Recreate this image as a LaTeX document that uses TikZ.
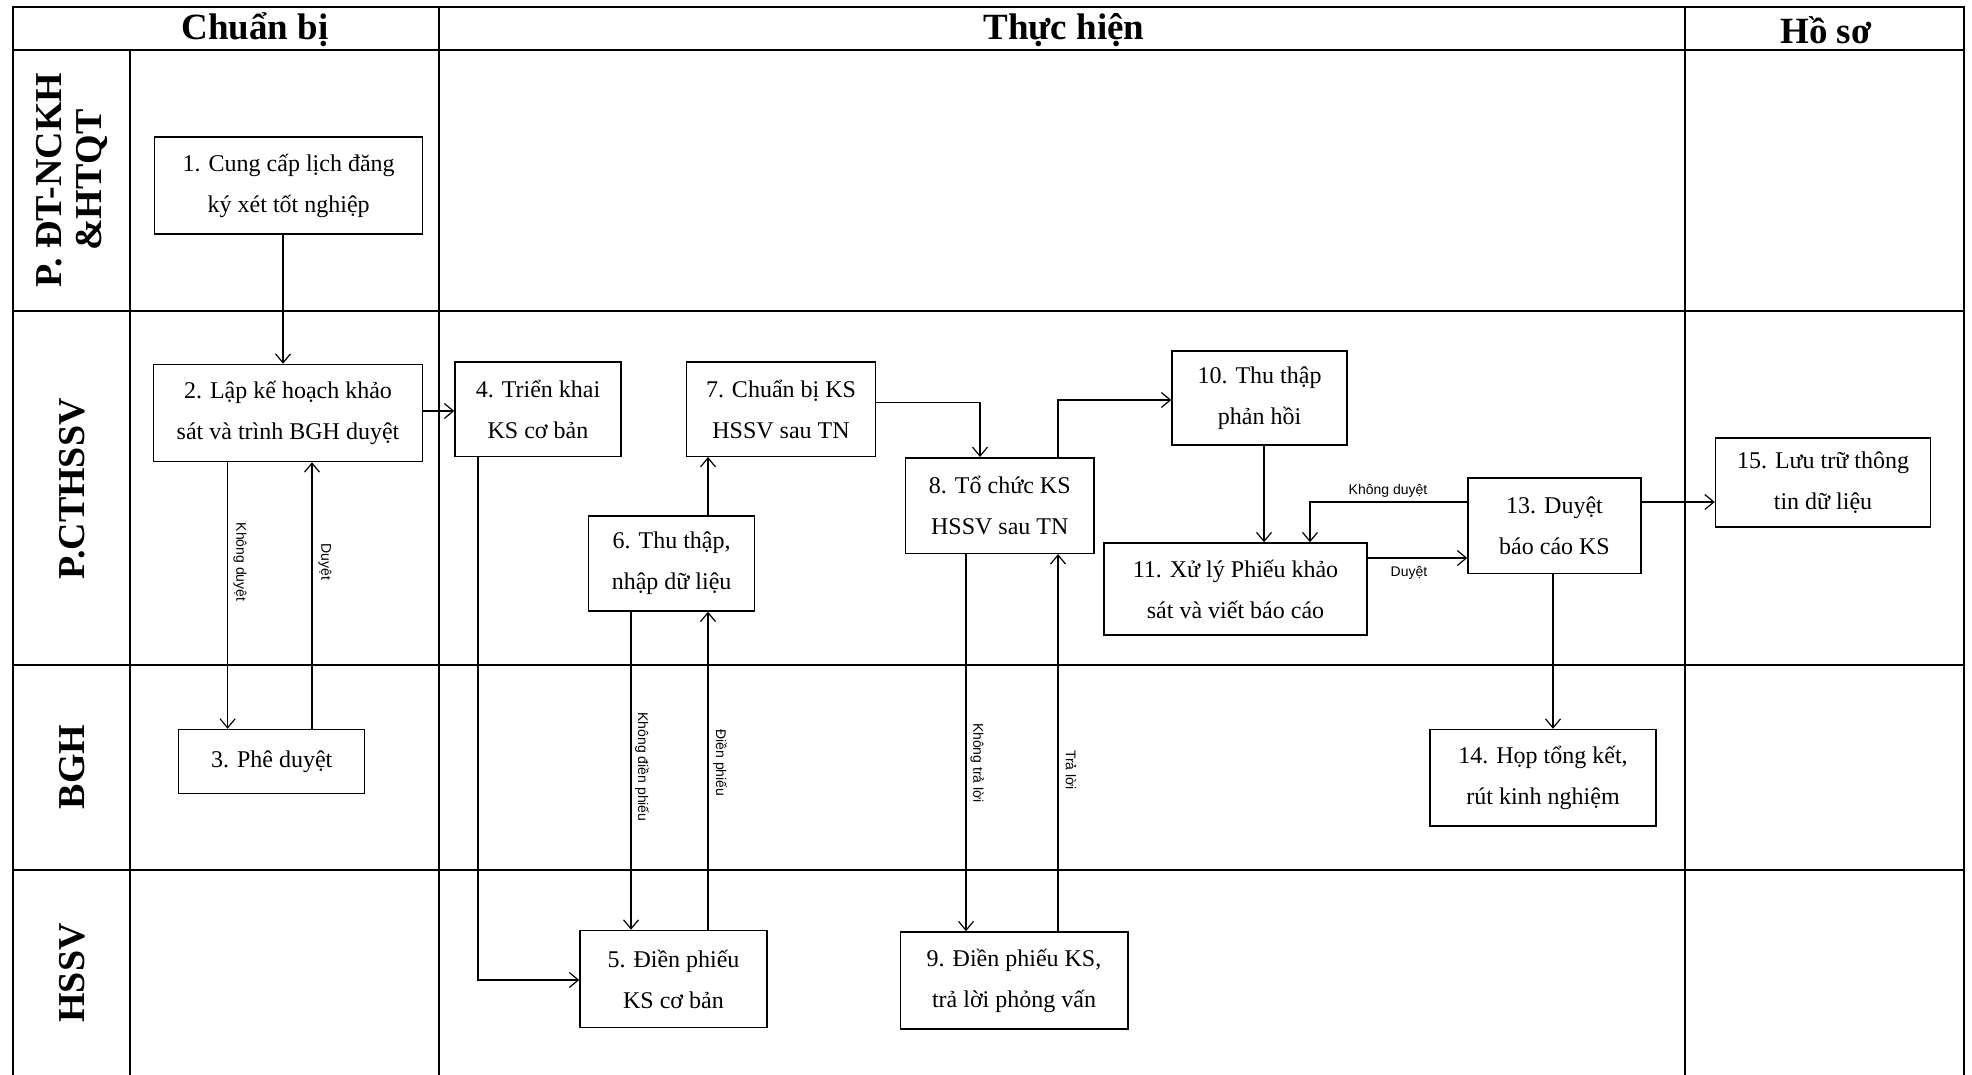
\documentclass[tikz,border=0pt]{standalone}
\usepackage{fontspec}
\setmainfont{Liberation Serif}
\newfontfamily\lblfont{Liberation Sans}
\usetikzlibrary{arrows.meta}
\begin{document}
\begin{tikzpicture}[x=1pt,y=-1pt,
  grid/.style={line width=2pt, black},
  box/.style={draw, line width=1.5pt, inner sep=0pt, align=center, font=\fontsize{24}{41}\selectfont},
  conn/.style={line width=1.2pt, -{Straight Barb[length=9pt,width=15pt,line width=1.2pt]}},
  lbl/.style={font=\lblfont\fontsize{14}{16}\selectfont, inner sep=1pt},
  vlbl/.style={lbl, rotate=-90},
  hdr/.style={font=\fontsize{37}{40}\selectfont\bfseries, inner sep=0pt},
  lane/.style={font=\fontsize{38}{40}\selectfont\bfseries, rotate=90, align=center, inner sep=0pt}
]
\useasboundingbox (0,0) rectangle (1972,1075);
\fill[white] (0,0) rectangle (1972,1075);

% table
\draw[grid] (12.6,1075) -- (12.6,7.5) -- (1964,7.5) -- (1964,1075);
\draw[grid] (12.6,50) -- (1964,50);
\draw[grid] (12.6,310.6) -- (1964,310.6);
\draw[grid] (12.6,665) -- (1964,665);
\draw[grid] (12.6,870) -- (1964,870);
\draw[grid] (130,50) -- (130,1075);
\draw[grid] (439,7.5) -- (439,1075);
\draw[grid] (1685,7.5) -- (1685,1075);

% headers
\node[hdr] (hC) at (255,30) {Chuẩn bị};
\node[hdr] (hT) at (1064,30) {Thực hiện};
\node[hdr] (hH) at (1826,30) {Hồ sơ};

% lanes
\node[lane] (l1) at (72,180) {P. ĐT-NCKH\\\&HTQT};
\node[lane] (l2) at (72,489) {P.CTHSSV};
\node[lane] (l3) at (72,767) {BGH};
\node[lane] (l4) at (72,973) {HSSV};

% boxes
\node[box, minimum width=268pt, minimum height=97pt] (n1) at (288.7,185.5) {1. Cung cấp lịch đăng\\ký xét tốt nghiệp};
\node[box, minimum width=269pt, minimum height=97pt] (n2) at (288,413) {2. Lập kế hoạch khảo\\sát và trình BGH duyệt};
\node[box, minimum width=186pt, minimum height=64pt] (n3) at (271.7,761.5) {3. Phê duyệt};
\node[box, minimum width=166pt, minimum height=94.5pt] (n4) at (538,409) {4. Triển khai\\KS cơ bản};
\node[box, minimum width=187pt, minimum height=97pt] (n5) at (673.5,979) {5. Điền phiếu\\KS cơ bản};
\node[box, minimum width=166pt, minimum height=95pt] (n6) at (671.6,563.4) {6. Thu thập,\\nhập dữ liệu};
\node[box, minimum width=189pt, minimum height=94.5pt] (n7) at (781,409) {7. Chuẩn bị KS\\HSSV sau TN};
\node[box, minimum width=188.5pt, minimum height=95.6pt] (n8) at (999.8,505.6) {8. Tổ chức KS\\HSSV sau TN};
\node[box, minimum width=227.5pt, minimum height=97pt] (n9) at (1014,980.5) {9. Điền phiếu KS,\\trả lời phỏng vấn};
\node[box, minimum width=175pt, minimum height=94pt] (n10) at (1259.5,398) {10. Thu thập\\phản hồi};
\node[box, minimum width=263pt, minimum height=92pt] (n11) at (1235.5,589) {11. Xử lý Phiếu khảo\\sát và viết báo cáo};
\node[box, minimum width=173pt, minimum height=95.5pt] (n13) at (1554.5,525.8) {13. Duyệt\\báo cáo KS};
\node[box, minimum width=226pt, minimum height=96.5pt] (n14) at (1543,777.8) {14. Họp tổng kết,\\rút kinh nghiệm};
\node[box, minimum width=215pt, minimum height=89pt] (n15) at (1823,482.4) {15. Lưu trữ thông\\tin dữ liệu};

% helper coordinates
\coordinate (x12) at (283,0);
\coordinate (y24) at (0,411);
\coordinate (x23) at (227.6,0);
\coordinate (x32) at (312,0);
\coordinate (y45) at (0,980);
\coordinate (x65) at (631,0);
\coordinate (x56) at (708,0);
\coordinate (y78) at (0,402.5);
\coordinate (x78) at (980,0);
\coordinate (x810) at (1058,0);
\coordinate (y810) at (0,400);
\coordinate (x89) at (966,0);
\coordinate (x1011) at (1264,0);
\coordinate (y1311) at (0,502);
\coordinate (x1311) at (1310,0);
\coordinate (y1113) at (0,558);
\coordinate (x1314) at (1553,0);
\coordinate (x45) at (478,0);
\coordinate (c45) at (478,980);
\coordinate (c78) at (980,402.5);
\coordinate (c810) at (1058,400);
\coordinate (c1311) at (1310,502);

% connectors
\draw[conn] (n1.south -| x12) -- (n2.north -| x12);
\draw[conn] (n2.east |- y24) -- (n4.west |- y24);
\draw[conn] (n2.south -| x23) -- (n3.north -| x23);
\draw[conn] (n3.north -| x32) -- (n2.south -| x32);
\draw[conn] (n4.south -| x45) -- (c45) -- (n5.west |- y45);
\draw[conn] (n6.south -| x65) -- (n5.north -| x65);
\draw[conn] (n5.north -| x56) -- (n6.south -| x56);
\draw[conn] (n6.north -| x56) -- (n7.south -| x56);
\draw[conn] (n7.east |- y78) -- (c78) -- (n8.north -| x78);
\draw[conn] (n8.north -| x810) -- (c810) -- (n10.west |- y810);
\draw[conn] (n8.south -| x89) -- (n9.north -| x89);
\draw[conn] (n9.north -| x810) -- (n8.south -| x810);
\draw[conn] (n10.south -| x1011) -- (n11.north -| x1011);
\draw[conn] (n13.west |- y1311) -- (c1311) -- (n11.north -| x1311);
\draw[conn] (n11.east |- y1113) -- (n13.west |- y1113);
\draw[conn] (n13.east |- y1311) -- (n15.west |- y1311);
\draw[conn] (n13.south -| x1314) -- (n14.north -| x1314);

% labels
\node[vlbl] (lb1) at (240,562) {Không duyệt};
\node[vlbl] (lb2) at (325,562) {Duyệt};
\node[vlbl] (lb3) at (642,767) {Không điền phiếu};
\node[vlbl] (lb4) at (720,763) {Điền phiếu};
\node[vlbl] (lb5) at (977,763) {Không trả lời};
\node[vlbl] (lb6) at (1071,770) {Trả lời};
\node[lbl] (lb7) at (1388,491) {Không duyệt};
\node[lbl] (lb8) at (1409,573) {Duyệt};
\end{tikzpicture}
\end{document}
